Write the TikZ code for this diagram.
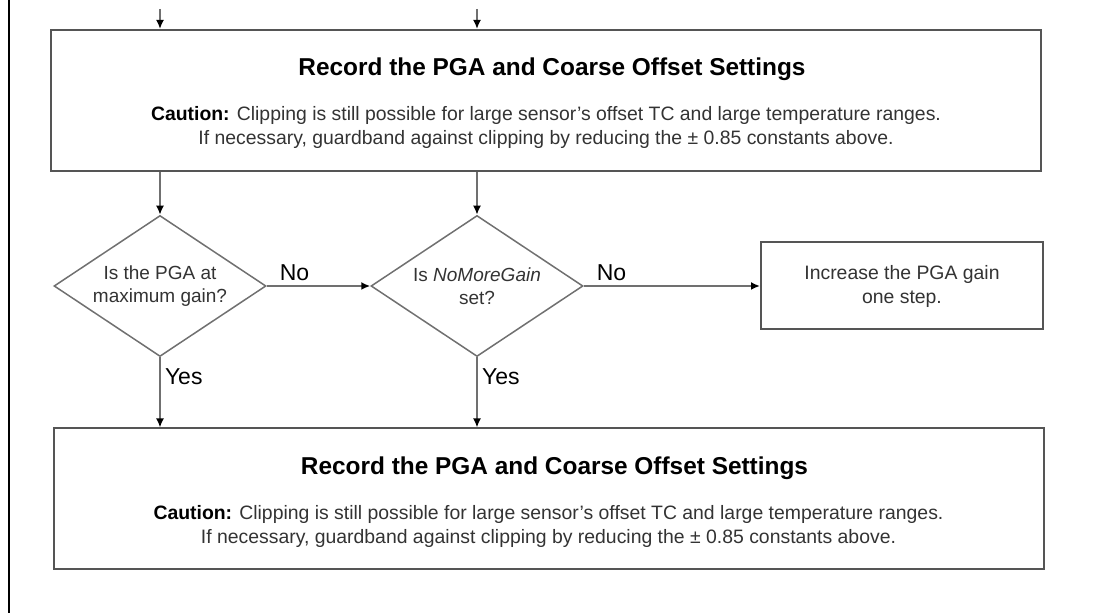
\documentclass[tikz,border=0pt]{standalone}
\usepackage{fontspec}
\setmainfont{Liberation Sans}
\usepackage{tikz}
\usetikzlibrary{arrows.meta,shapes.geometric}

\definecolor{linegray}{HTML}{707070}
\definecolor{boxgray}{HTML}{555555}
\definecolor{textgray}{HTML}{333333}

\begin{document}
\begin{tikzpicture}[x=0.5pt,y=-0.5pt,>={Latex[length=4.5pt,width=4pt,color=black]},
  box node/.style={rectangle,draw=boxgray,line width=1pt,fill=white,align=center,
    text=textgray,font=\fontsize{9.7}{12}\selectfont},
  rec node/.style={box node,minimum width=495pt,minimum height=70.5pt},
  step node/.style={box node,minimum width=141pt,minimum height=43.5pt},
  dec node/.style={diamond,draw=linegray,line width=0.75pt,aspect=1.5,inner sep=0pt,
    minimum width=106pt,minimum height=70.5pt,align=center,text=textgray,
    font=\fontsize{9.5}{11.5}\selectfont},
  ans node/.style={font=\fontsize{11.5}{13}\selectfont,text=black,inner sep=2pt}]
  \useasboundingbox (0,0) rectangle (1116,613);

  \draw[line width=1pt] (9,0) -- (9,613);

  \node[rec node] (1) at (546,100.5) {\hspace*{6pt}{\fontsize{12.2}{14}\selectfont\bfseries\color{black}Record the PGA and Coarse Offset Settings}\\[10.5pt]
    {\bfseries\color{black}Caution:} Clipping is still possible for large sensor's offset TC and large temperature ranges.\\
    If necessary, guardband against clipping by reducing the ± 0.85 constants above.\\[-13pt]\mbox{}};
  \node[dec node] (2) at (160,286) {Is the PGA at\\ maximum gain?};
  \node[dec node] (3) at (477,286) {Is \textit{NoMoreGain}\\ set?};
  \node[step node] (4) at (902,286) {Increase the PGA gain\\ one step.};
  \node[rec node] (5) at (548.5,499) {\hspace*{6pt}{\fontsize{12.2}{14}\selectfont\bfseries\color{black}Record the PGA and Coarse Offset Settings}\\[10.5pt]
    {\bfseries\color{black}Caution:} Clipping is still possible for large sensor's offset TC and large temperature ranges.\\
    If necessary, guardband against clipping by reducing the ± 0.85 constants above.\\[-13pt]\mbox{}};

  \coordinate (a) at (160,9);
  \coordinate (b) at (477,9);

  \path[every edge/.style={draw=linegray,line width=1pt,->}]
    (a) edge (a |- 1.north)
    (b) edge (b |- 1.north)
    (2.north |- 1.south) edge (2.north)
    (3.north |- 1.south) edge (3.north)
    (2.east) edge node[ans node,pos=0,above right,xshift=4pt] {No} (3.west)
    (3.east) edge node[ans node,pos=0,above right,xshift=4pt] {No} (4.west)
    (2.south) edge node[ans node,pos=0,below right,yshift=-3pt] {Yes} (2.south |- 5.north)
    (3.south) edge node[ans node,pos=0,below right,yshift=-3pt] {Yes} (3.south |- 5.north);
\end{tikzpicture}
\end{document}
